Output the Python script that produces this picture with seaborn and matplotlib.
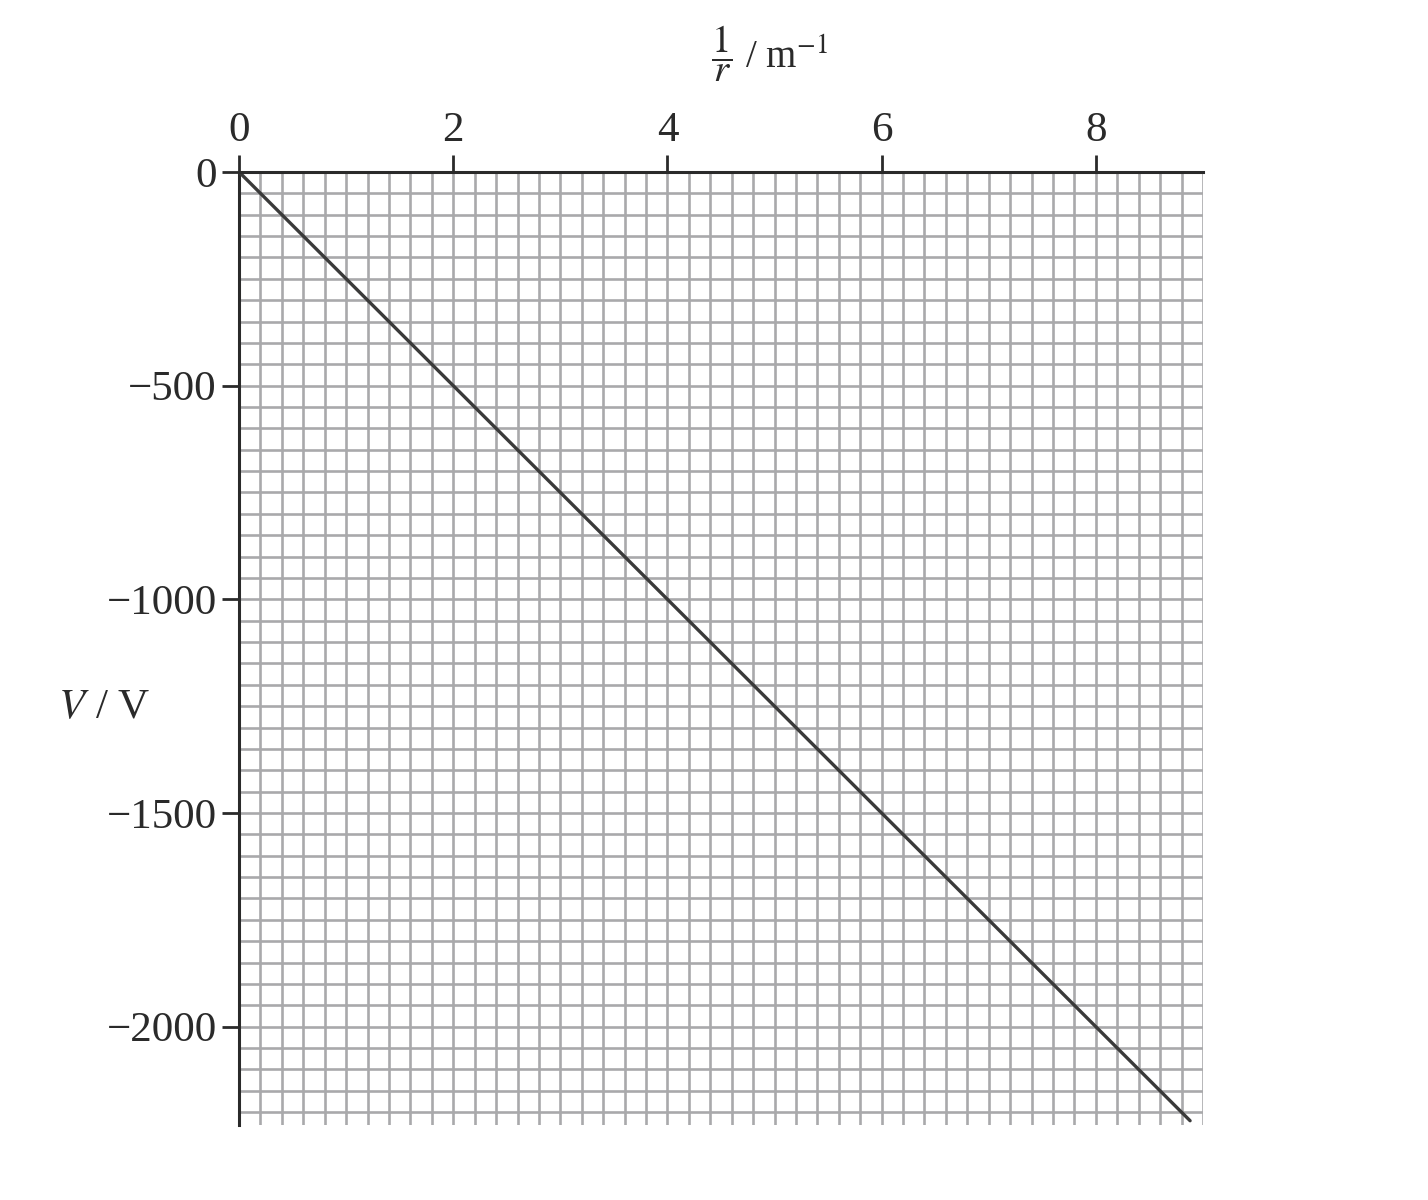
import numpy as np
import pandas as pd
import seaborn as sns
import matplotlib.pyplot as plt

# data: straight line through the origin
inv_r = [0.0, 8.88]
potential = [0.0, -2220.0]
x_ticks = [0, 2, 4, 6, 8]
y_ticks = [0, -500, -1000, -1500, -2000]

df = pd.DataFrame({'inv_r': inv_r, 'V': potential})

sns.set_theme(style='white')
plt.rcParams['font.family'] = ['Liberation Serif', 'DejaVu Serif']
plt.rcParams['mathtext.fontset'] = 'stix'
plt.rcParams['axes.unicode_minus'] = True

fig = plt.figure(figsize=(14.28, 12), dpi=100)
ax = fig.add_axes([0.1674, 0.0625, 0.675, 0.7942])

# graph paper grid
grid_col = '#a9a9ab'
for gx in np.arange(0.2, 9.01, 0.2):
    ax.axvline(gx, color=grid_col, lw=1.9, zorder=1)
for gy in np.arange(-50, -2201, -50):
    ax.axhline(gy, xmin=0, xmax=1, color=grid_col, lw=1.9, zorder=1)

sns.lineplot(data=df, x='inv_r', y='V', color='#3a3a3a', lw=2.4, ax=ax, zorder=3)

ax.set_xlim(0, 9.0)
ax.set_ylim(-2230, 0)
ax.xaxis.tick_top()
ax.set_xticks(x_ticks)
ax.set_yticks(y_ticks)
ax.set_xticklabels([str(v) for v in x_ticks])
ax.set_yticklabels(['0' if v == 0 else '\u2212' + str(-v) for v in y_ticks])
ax.tick_params(axis='both', labelsize=31, colors='#2a2a2a', length=12, width=2,
               direction='out', pad=4)
ax.tick_params(axis='x', top=True, bottom=False)
ax.tick_params(axis='y', left=True)

for side in ['bottom', 'right']:
    ax.spines[side].set_visible(False)
for side in ['top', 'left']:
    ax.spines[side].set_color('#2a2a2a')
    ax.spines[side].set_linewidth(2.2)
ax.spines['top'].set_zorder(4)

ax.set_xlabel('')
ax.set_ylabel('')
fig.text(0.539, 0.955, r'$\dfrac{1}{r}$ / m$^{-1}$', fontsize=28, ha='center', va='center',
         color='#2a2a2a')
fig.text(0.073, 0.41, r'$V$ / V', fontsize=31, ha='center', va='center', color='#2a2a2a')

fig.savefig('out.png', dpi=100, facecolor='white')
